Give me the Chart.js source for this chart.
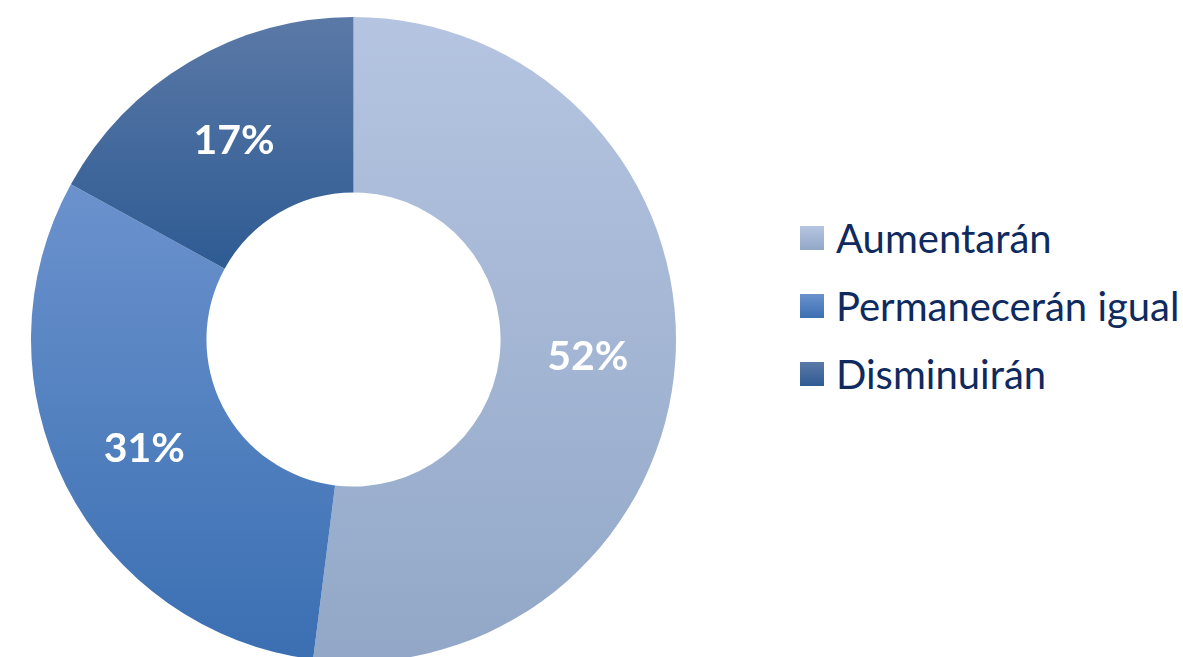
<!DOCTYPE html>
<html lang="es">
<head>
<meta charset="utf-8">
<title>Expectativas</title>
<script src="https://cdn.jsdelivr.net/npm/chart.js@4/dist/chart.umd.min.js"></script>
<style>
  html, body { margin: 0; padding: 0; width: 1183px; height: 657px; overflow: hidden; background: #ffffff; }
  #donutBox { position: absolute; left: 31px; top: 17px; width: 645px; height: 645px; }
  #legend { position: absolute; left: 800px; top: 204px; font-family: Lato, "Open Sans", sans-serif; color: #0f2a5e; }
  .item { display: flex; align-items: center; height: 68px; font-size: 40px; white-space: nowrap; }
  .swatch { width: 24px; height: 24px; margin-right: 12px; flex: none; }
</style>
</head>
<body>
<div id="donutBox"><canvas id="donut"></canvas></div>
<div id="legend"></div>
<script>
// Categories and shares (percent)
const categories = ['Aumentarán', 'Permanecerán igual', 'Disminuirán'];
const shares = [52, 31, 17];
// Top and bottom colours of each slice's vertical gradient
const topColors = ['#b5c5e1', '#6b92cd', '#5b79a7'];
const bottomColors = ['#92a7c7', '#3a6fb2', '#2e5b93'];

// Vertical extent of an annular sector, sampled along its outline
function sectorExtent(cx, cy, r0, r1, a0, a1) {
  let minY = Infinity, maxY = -Infinity;
  const steps = 90;
  for (let i = 0; i <= steps; i++) {
    const a = a0 + (a1 - a0) * i / steps;
    for (const r of [r0, r1]) {
      const y = cy + r * Math.sin(a);
      if (y < minY) minY = y;
      if (y > maxY) maxY = y;
    }
  }
  return [minY, maxY];
}

function sliceGradient(context) {
  const chart = context.chart;
  const area = chart.chartArea;
  if (!area) return topColors[context.dataIndex];
  const meta = chart.getDatasetMeta(0);
  const ctrl = meta.controller;
  const outer = ctrl.outerRadius || Math.min(area.width, area.height) / 2;
  const inner = ctrl.innerRadius || outer * 0.456;
  const cx = (area.left + area.right) / 2;
  const cy = (area.top + area.bottom) / 2;
  const total = shares.reduce((s, v) => s + v, 0);
  let start = -Math.PI / 2;
  for (let i = 0; i < context.dataIndex; i++) start += 2 * Math.PI * shares[i] / total;
  const end = start + 2 * Math.PI * shares[context.dataIndex] / total;
  const [y0, y1] = sectorExtent(cx, cy, inner, outer, start, end);
  const g = chart.ctx.createLinearGradient(0, y0, 0, y1);
  g.addColorStop(0, topColors[context.dataIndex]);
  g.addColorStop(1, bottomColors[context.dataIndex]);
  return g;
}

// Percentage labels inside each slice
const sliceLabels = {
  id: 'sliceLabels',
  afterDatasetsDraw(chart) {
    const ctx = chart.ctx;
    const meta = chart.getDatasetMeta(0);
    ctx.save();
    ctx.fillStyle = '#ffffff';
    ctx.font = 'bold 41px Lato, "Open Sans", sans-serif';
    ctx.textAlign = 'center';
    ctx.textBaseline = 'middle';
    meta.data.forEach((arc, i) => {
      const p = arc.tooltipPosition();
      ctx.fillText(shares[i] + '%', p.x, p.y + 3);
    });
    ctx.restore();
  }
};

new Chart(document.getElementById('donut'), {
  type: 'doughnut',
  data: {
    labels: categories,
    datasets: [{
      data: shares,
      backgroundColor: sliceGradient,
      borderWidth: 0
    }]
  },
  options: {
    responsive: true,
    maintainAspectRatio: false,
    animation: false,
    cutout: '45.6%',
    layout: { padding: 0 },
    plugins: {
      legend: { display: false },
      tooltip: { enabled: false }
    }
  },
  plugins: [sliceLabels]
});

// Legend built from the same categories and colours
const legend = document.getElementById('legend');
categories.forEach((name, i) => {
  const item = document.createElement('div');
  item.className = 'item';
  const sw = document.createElement('span');
  sw.className = 'swatch';
  sw.style.background = 'linear-gradient(to bottom, ' + topColors[i] + ', ' + bottomColors[i] + ')';
  const txt = document.createElement('span');
  txt.textContent = name;
  item.appendChild(sw);
  item.appendChild(txt);
  legend.appendChild(item);
});
</script>
</body>
</html>
